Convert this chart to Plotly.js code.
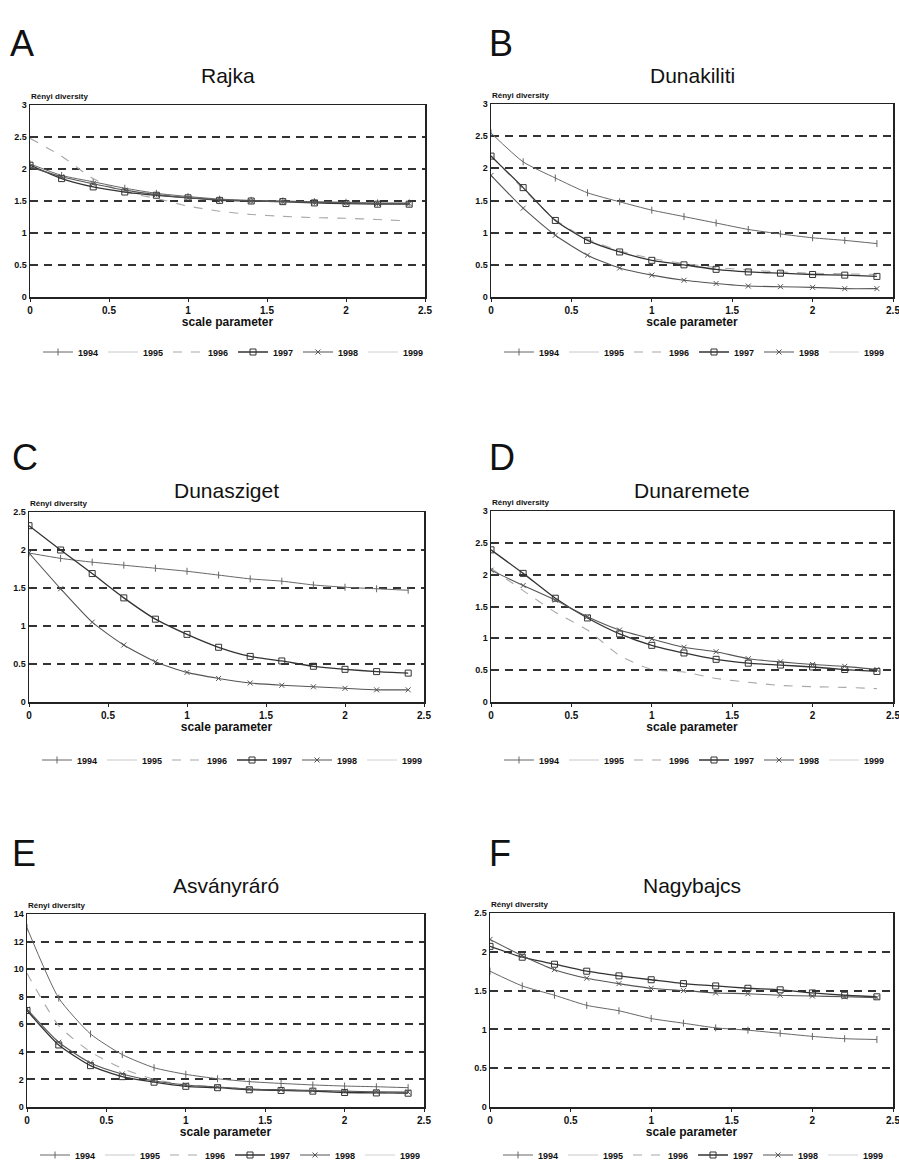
<!DOCTYPE html>
<html>
<head>
<meta charset="utf-8">
<script src="https://cdn.plot.ly/plotly-3.0.1.min.js"></script>
<style>
html,body{margin:0;padding:0;background:#fff;}
#chart{width:899px;height:1170px;}
</style>
</head>
<body>
<div id="chart"></div>
<script>
// ---------------- DATA ----------------
const scaleParam = [0, 0.2, 0.4, 0.6, 0.8, 1.0, 1.2, 1.4, 1.6, 1.8, 2.0, 2.2, 2.4];
const years = ['1994', '1995', '1996', '1997', '1998', '1999'];
const sites = ['Rajka', 'Dunakiliti', 'Dunasziget', 'Dunaremete', 'Asványráró', 'Nagybajcs'];
const panelLetters = ['A', 'B', 'C', 'D', 'E', 'F'];
const yLabel = 'Rényi diversity';
const xLabel = 'scale parameter';

// Rajka
const rajka_1994 = [2.08, 1.9, 1.8, 1.7, 1.62, 1.57, 1.53, 1.51, 1.5, 1.49, 1.48, 1.47, 1.47];
const rajka_1996 = [2.48, 2.2, 1.85, 1.64, 1.54, 1.42, 1.34, 1.29, 1.26, 1.24, 1.23, 1.21, 1.19];
const rajka_1997 = [2.06, 1.85, 1.72, 1.64, 1.59, 1.55, 1.51, 1.5, 1.49, 1.47, 1.46, 1.45, 1.45];
const rajka_1998 = [2.03, 1.88, 1.77, 1.67, 1.6, 1.55, 1.52, 1.5, 1.49, 1.48, 1.47, 1.46, 1.46];
// Dunakiliti
const dunakiliti_1994 = [2.55, 2.1, 1.85, 1.62, 1.48, 1.35, 1.25, 1.15, 1.05, 0.98, 0.92, 0.88, 0.83];
const dunakiliti_1996 = [2.2, 1.68, 1.2, 0.9, 0.72, 0.6, 0.52, 0.46, 0.42, 0.39, 0.37, 0.36, 0.35];
const dunakiliti_1997 = [2.19, 1.7, 1.19, 0.88, 0.7, 0.57, 0.5, 0.43, 0.39, 0.37, 0.35, 0.34, 0.32];
const dunakiliti_1998 = [1.89, 1.38, 0.96, 0.65, 0.45, 0.34, 0.26, 0.21, 0.17, 0.16, 0.15, 0.13, 0.13];
// Dunasziget
const dunasziget_1994 = [1.96, 1.89, 1.84, 1.8, 1.76, 1.72, 1.67, 1.62, 1.59, 1.54, 1.51, 1.49, 1.47];
const dunasziget_1997 = [2.32, 2.0, 1.69, 1.37, 1.09, 0.89, 0.72, 0.6, 0.54, 0.47, 0.43, 0.4, 0.38];
const dunasziget_1998 = [1.96, 1.49, 1.05, 0.75, 0.53, 0.39, 0.31, 0.25, 0.22, 0.2, 0.18, 0.16, 0.16];
// Dunaremete
const dunaremete_1996 = [2.1, 1.75, 1.41, 1.13, 0.73, 0.51, 0.47, 0.37, 0.31, 0.26, 0.24, 0.23, 0.21];
const dunaremete_1997 = [2.39, 2.02, 1.63, 1.32, 1.07, 0.89, 0.77, 0.67, 0.61, 0.58, 0.55, 0.51, 0.48];
const dunaremete_1998 = [2.07, 1.83, 1.6, 1.34, 1.13, 0.99, 0.86, 0.79, 0.68, 0.63, 0.59, 0.56, 0.51];
// Asványráró
const asvanyraro_1994 = [13.0, 7.9, 5.3, 3.8, 2.85, 2.37, 2.05, 1.84, 1.71, 1.6, 1.52, 1.47, 1.4];
const asvanyraro_1996 = [9.7, 5.9, 4.0, 2.8, 2.0, 1.6, 1.45, 1.3, 1.25, 1.2, 1.1, 1.05, 1.0];
const asvanyraro_1997 = [7.0, 4.5, 3.0, 2.2, 1.8, 1.5, 1.4, 1.25, 1.2, 1.15, 1.05, 1.02, 1.0];
const asvanyraro_1998 = [7.1, 4.7, 3.2, 2.4, 1.9, 1.6, 1.45, 1.3, 1.25, 1.2, 1.15, 1.1, 1.08];
// Nagybajcs
const nagybajcs_1994 = [1.75, 1.56, 1.44, 1.31, 1.24, 1.14, 1.08, 1.02, 0.99, 0.95, 0.91, 0.88, 0.87];
const nagybajcs_1997 = [2.07, 1.93, 1.84, 1.75, 1.69, 1.64, 1.59, 1.56, 1.53, 1.51, 1.47, 1.44, 1.42];
const nagybajcs_1998 = [2.16, 1.95, 1.77, 1.66, 1.59, 1.53, 1.5, 1.47, 1.46, 1.44, 1.43, 1.42, 1.41];

// per-panel series (year index -> values), missing years are null
const panelSeries = [
  [rajka_1994, null, rajka_1996, rajka_1997, rajka_1998, null],
  [dunakiliti_1994, null, dunakiliti_1996, dunakiliti_1997, dunakiliti_1998, null],
  [dunasziget_1994, null, null, dunasziget_1997, dunasziget_1998, null],
  [null, null, dunaremete_1996, dunaremete_1997, dunaremete_1998, null],
  [asvanyraro_1994, null, asvanyraro_1996, asvanyraro_1997, asvanyraro_1998, null],
  [nagybajcs_1994, null, null, nagybajcs_1997, nagybajcs_1998, null]
];
const yMax = [3, 3, 2.5, 3, 14, 2.5];
const yStep = [0.5, 0.5, 0.5, 0.5, 2, 0.5];

// ---------------- STYLE / LAYOUT ----------------
const W = 899, H = 1170;
// plot rectangles in pixels [left, right, top, bottom]
const rects = [
  [30, 425, 105, 297],
  [491, 893, 104, 297],
  [29, 424, 512, 702],
  [491, 893, 511, 702],
  [27, 424, 914, 1107],
  [490, 893, 913, 1107]
];
const letterPos = [[8, 44], [487, 44], [10, 458], [487, 458], [10, 853], [487, 853]];
const titleY = [75, 75, 490, 490, 885, 885];
const legendY = [352, 352, 760, 760, 1155, 1155];

const yearStyle = [
  {color: '#666', width: 1.0, dash: 'solid', symbol: 'line-ns-open', size: 5, mode: 'lines+markers'},
  {color: '#c8c8c8', width: 1.0, dash: 'solid', symbol: 'circle', size: 1, mode: 'lines'},
  {color: '#a8a8a8', width: 1.1, dash: 'dash', symbol: 'circle', size: 1, mode: 'lines'},
  {color: '#333', width: 1.3, dash: 'solid', symbol: 'square-open', size: 6, mode: 'lines+markers'},
  {color: '#555', width: 1.1, dash: 'solid', symbol: 'x-thin-open', size: 5, mode: 'lines+markers'},
  {color: '#d0d0d0', width: 1.0, dash: 'solid', symbol: 'circle', size: 1, mode: 'lines'}
];

const FONT = 'Liberation Sans, Arial, sans-serif';
const traces = [];
const layout = {
  width: W, height: H,
  margin: {l: 0, r: 0, t: 0, b: 0, autoexpand: false},
  paper_bgcolor: '#fff', plot_bgcolor: '#fff',
  font: {family: FONT, color: '#111'},
  annotations: [],
  showlegend: true
};

for (let p = 0; p < 6; p++) {
  const r = rects[p];
  const sfx = p === 0 ? '' : String(p + 1);
  const xa = 'x' + sfx, ya = 'y' + sfx;
  const legName = 'legend' + sfx;
  layout['xaxis' + sfx] = {
    domain: [r[0] / W, r[1] / W],
    anchor: ya,
    range: [0, 2.5],
    dtick: 0.5, tick0: 0,
    showgrid: false, zeroline: false,
    showline: true, mirror: true, linecolor: '#222', linewidth: 1.5,
    ticks: 'outside', ticklen: 3, tickcolor: '#222',
    ticklabeloverflow: 'allow',
    tickfont: {size: 10, family: FONT, weight: 'bold', color: '#111'},
    title: {text: xLabel, font: {size: 12, family: FONT, weight: 'bold', color: '#111'}, standoff: 2}
  };
  layout['yaxis' + sfx] = {
    domain: [1 - r[3] / H, 1 - r[2] / H],
    anchor: xa,
    range: [0, yMax[p]],
    dtick: yStep[p], tick0: 0,
    showgrid: true, griddash: '8px,6px', gridcolor: '#333', gridwidth: 2,
    zeroline: false,
    showline: true, mirror: true, linecolor: '#222', linewidth: 1.5,
    ticks: '',
    ticklabeloverflow: 'allow',
    tickfont: {size: 9, family: FONT, weight: 'bold', color: '#111'}
  };
  layout[legName] = {
    orientation: 'h',
    x: (r[0] + 8) / W, xanchor: 'left',
    y: 1 - legendY[p] / H, yanchor: 'middle',
    entrywidth: 20, entrywidthmode: 'pixels',
    itemwidth: 30,
    font: {size: 9, family: FONT, weight: 'bold', color: '#111'},
    bgcolor: 'rgba(0,0,0,0)',
    tracegroupgap: 0
  };
  for (let k = 0; k < 6; k++) {
    const st = yearStyle[k];
    const vals = panelSeries[p][k];
    traces.push({
      type: 'scatter',
      x: vals ? scaleParam : [null],
      y: vals ? vals : [null],
      xaxis: xa, yaxis: ya,
      legend: legName,
      name: years[k],
      showlegend: true,
      mode: st.mode,
      line: {color: st.color, width: st.width, dash: st.dash, shape: 'spline', smoothing: 0.6},
      marker: {symbol: st.symbol, size: st.size, color: st.color, line: {color: st.color, width: 1}},
      hoverinfo: 'x+y+name'
    });
  }
  // panel letter
  layout.annotations.push({
    text: panelLetters[p], xref: 'paper', yref: 'paper',
    x: letterPos[p][0] / W, y: 1 - letterPos[p][1] / H,
    xanchor: 'left', yanchor: 'middle', showarrow: false,
    font: {size: 36, family: FONT, color: '#111'}
  });
  // site title
  layout.annotations.push({
    text: sites[p], xref: 'paper', yref: 'paper',
    x: (r[0] + r[1]) / 2 / W, y: 1 - titleY[p] / H,
    xanchor: 'center', yanchor: 'middle', showarrow: false,
    font: {size: 21, family: FONT, color: '#111'}
  });
  // y label
  layout.annotations.push({
    text: yLabel, xref: 'paper', yref: 'paper',
    x: (r[0] - 1) / W, y: 1 - (r[2] - 9) / H,
    xanchor: 'left', yanchor: 'middle', showarrow: false,
    font: {size: 8, family: FONT, weight: 'bold', color: '#111'}
  });
}

Plotly.newPlot('chart', traces, layout, {displayModeBar: false, staticPlot: true});
</script>
</body>
</html>
